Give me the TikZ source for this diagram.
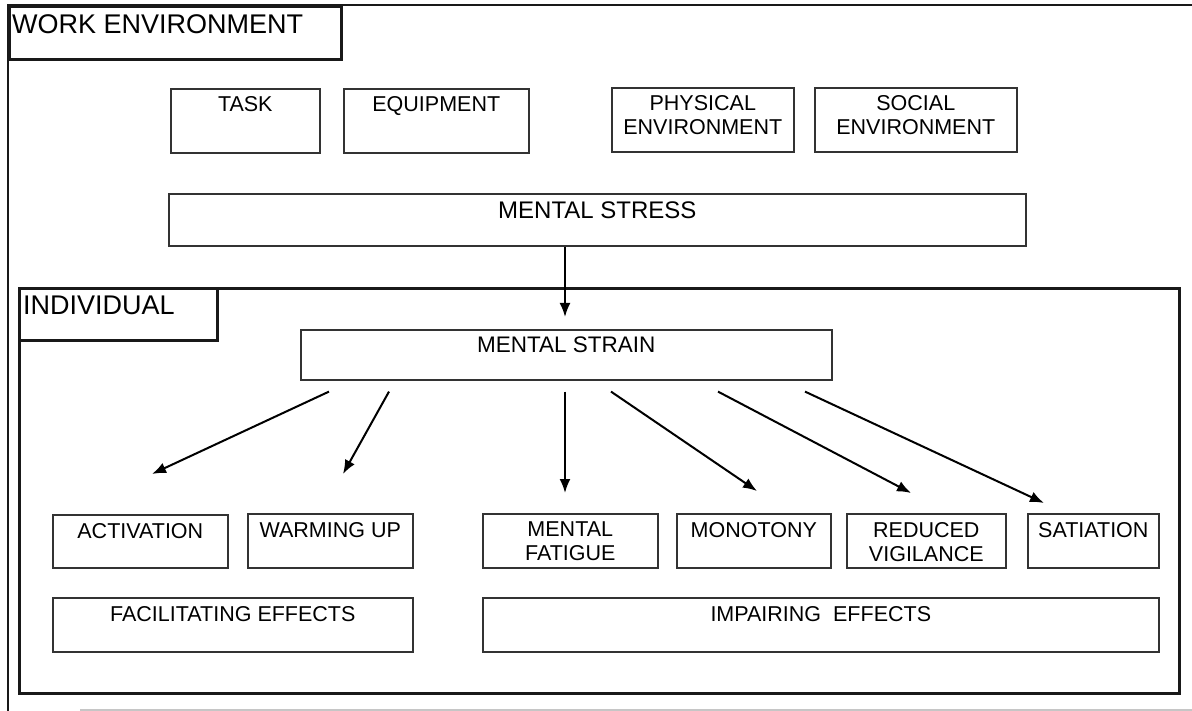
\documentclass[tikz,border=0pt]{standalone}
\usepackage{fontspec}
\setmainfont{Liberation Sans}
\usetikzlibrary{arrows.meta}
\begin{document}
\begin{tikzpicture}[x=1pt,y=-1pt,
  frame/.style={line width=2.6pt,draw=black!90},
  box/.style={draw=black!80,line width=1.6pt,anchor=north west,inner sep=0pt},
  lbl/.style={anchor=north,inner sep=0pt,align=center,font=\fontsize{21.5}{24}\selectfont,text=black},
  head/.style={anchor=north west,inner sep=0pt,font=\fontsize{27}{30}\selectfont,text=black},
  arr/.style={line width=2pt,draw=black,-{Latex[length=14pt,width=11pt]}}]
\useasboundingbox (0,0) rectangle (1192,711);

% outer work environment frame (open at the right)
\draw[frame] (1192,5) -- (8,5) -- (8,711);
\draw[gray!45,line width=2pt] (80,710) -- (1192,710);
\node[box,frame,minimum width=332pt,minimum height=53pt] (wetitle) at (8,5) {};
\node[head] (wetext) at (12,14) {WORK ENVIRONMENT};

% stress factors
\node[box,minimum width=149pt,minimum height=64pt] (task) at (170,88) {};
\node[lbl] at ([yshift=-8pt]task.north) {TASK};
\node[box,minimum width=185pt,minimum height=64pt] (equip) at (343,88) {};
\node[lbl] at ([yshift=-8pt]equip.north) {EQUIPMENT};
\node[box,minimum width=182pt,minimum height=64pt] (phys) at (611,87) {};
\node[lbl] at ([yshift=-8pt]phys.north) {PHYSICAL\\ENVIRONMENT};
\node[box,minimum width=202pt,minimum height=64pt] (soc) at (814,87) {};
\node[lbl] at ([yshift=-8pt]soc.north) {SOCIAL\\ENVIRONMENT};

\node[box,minimum width=857pt,minimum height=52pt] (stress) at (168,193) {};
\node[lbl,font=\fontsize{24}{26}\selectfont] at ([yshift=-9pt]stress.north) {MENTAL STRESS};

% individual frame
\node[box,frame,minimum width=1160pt,minimum height=405pt] (indiv) at (18,287) {};
\node[box,frame,minimum width=198pt,minimum height=52pt] (intitle) at (18,287) {};
\node[head] (intext) at (23,296) {INDIVIDUAL};

\node[box,minimum width=531pt,minimum height=50pt] (strain) at (300,329) {};
\node[lbl,font=\fontsize{22.5}{24}\selectfont] at ([yshift=-8pt]strain.north) {MENTAL STRAIN};

% effects
\node[box,minimum width=175pt,minimum height=53pt] (act) at (52,514) {};
\node[lbl] at ([yshift=-9pt]act.north) {ACTIVATION};
\node[box,minimum width=165pt,minimum height=54pt] (warm) at (247,513) {};
\node[lbl] at ([yshift=-9pt]warm.north) {WARMING UP};
\node[box,minimum width=360pt,minimum height=54pt] (facil) at (52,597) {};
\node[lbl] at ([yshift=-9pt]facil.north) {FACILITATING EFFECTS};

\node[box,minimum width=175pt,minimum height=54pt] (fatig) at (482,513) {};
\node[lbl] at ([yshift=-9pt]fatig.north) {MENTAL\\FATIGUE};
\node[box,minimum width=154pt,minimum height=54pt] (mono) at (676,513) {};
\node[lbl] at ([yshift=-9pt]mono.north) {MONOTONY};
\node[box,minimum width=159pt,minimum height=54pt] (vigil) at (846,513) {};
\node[lbl] at ([yshift=-9pt]vigil.north) {REDUCED\\VIGILANCE};
\node[box,minimum width=131pt,minimum height=54pt] (satia) at (1027,513) {};
\node[lbl] at ([yshift=-9pt]satia.north) {SATIATION};
\node[box,minimum width=676pt,minimum height=54pt] (impair) at (482,597) {};
\node[lbl] at ([yshift=-9pt]impair.north) {IMPAIRING\ \ EFFECTS};

% arrow end points
\coordinate (tstrain) at (565,317);
\coordinate (tact) at (152,474);
\coordinate (twarm) at (343,474);
\coordinate (tfatig) at (565,493);
\coordinate (tmono) at (757,491);
\coordinate (tvigil) at (911,493);
\coordinate (tsatia) at (1044,503);

\draw[arr] ([xshift=397pt]stress.south west) -- (tstrain);
\draw[arr] ([shift={(29,11)}]strain.south west) -- (tact);
\draw[arr] ([shift={(89,11)}]strain.south west) -- (twarm);
\draw[arr] ([shift={(265,11)}]strain.south west) -- (tfatig);
\draw[arr] ([shift={(311,11)}]strain.south west) -- (tmono);
\draw[arr] ([shift={(418,11)}]strain.south west) -- (tvigil);
\draw[arr] ([shift={(505,11)}]strain.south west) -- (tsatia);
\end{tikzpicture}
\end{document}
